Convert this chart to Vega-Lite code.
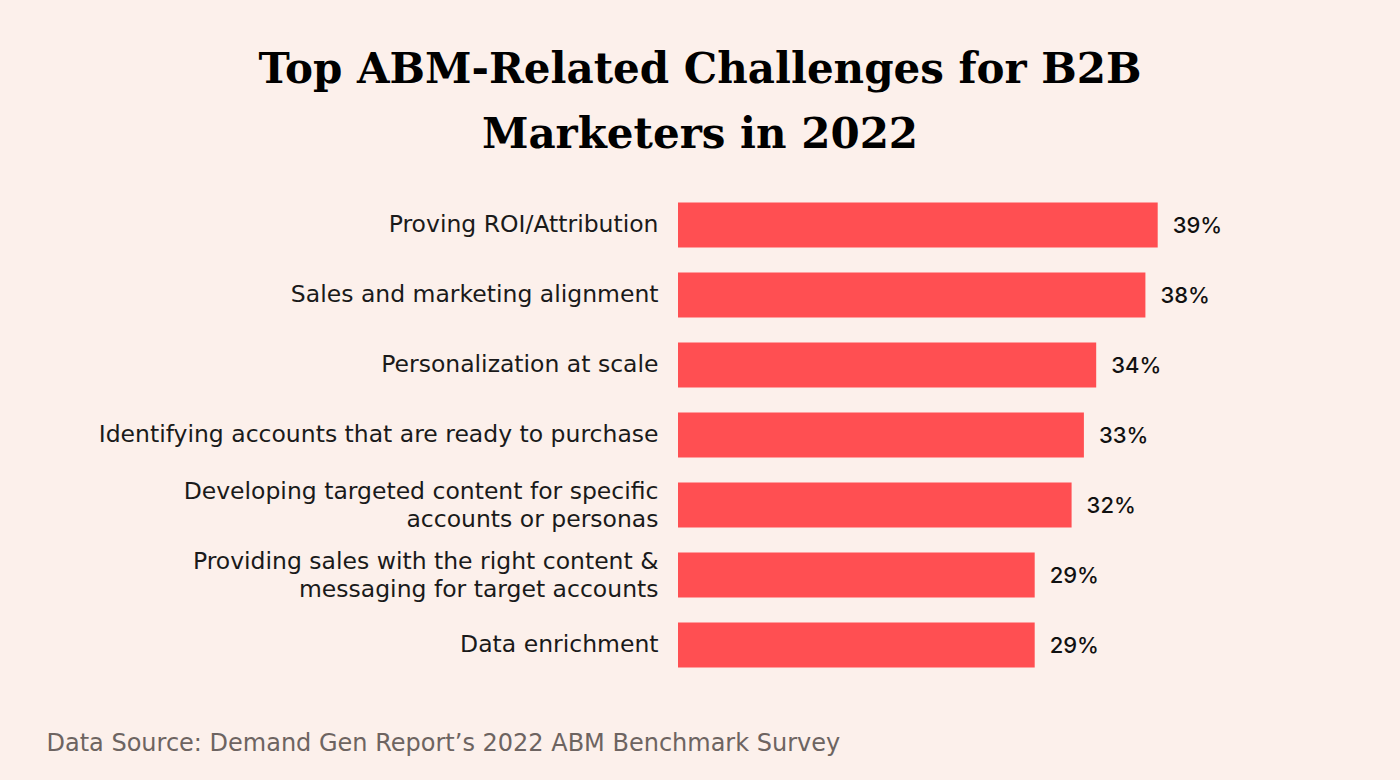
{
  "$schema": "https://vega.github.io/schema/vega-lite/v6.json",
  "width": 492,
  "height": 490,
  "autosize": {"type": "none"},
  "padding": {"left": 678, "top": 190, "right": 230, "bottom": 100},
  "background": "#fcf0eb",
  "title": {
    "text": ["Top ABM-Related Challenges for B2B", "Marketers in 2022"],
    "anchor": "middle",
    "frame": "group",
    "dx": -224,
    "font": "DejaVu Serif",
    "fontWeight": "bold",
    "fontSize": 42,
    "lineHeight": 65,
    "color": "#000000",
    "offset": 33
  },
  "data": {
    "values": [
      {"challenge": "Proving ROI/Attribution", "value": 39, "pct": "39%"},
      {"challenge": "Sales and marketing alignment", "value": 38, "pct": "38%"},
      {"challenge": "Personalization at scale", "value": 34, "pct": "34%"},
      {"challenge": "Identifying accounts that are ready to purchase", "value": 33, "pct": "33%"},
      {"challenge": "Developing targeted content for specific|accounts or personas", "value": 32, "pct": "32%"},
      {"challenge": "Providing sales with the right content &|messaging for target accounts", "value": 29, "pct": "29%"},
      {"challenge": "Data enrichment", "value": 29, "pct": "29%"}
    ]
  },
  "encoding": {
    "y": {
      "field": "challenge",
      "type": "nominal",
      "sort": [
        "Proving ROI/Attribution",
        "Sales and marketing alignment",
        "Personalization at scale",
        "Identifying accounts that are ready to purchase",
        "Developing targeted content for specific|accounts or personas",
        "Providing sales with the right content &|messaging for target accounts",
        "Data enrichment"
      ],
      "scale": {"paddingInner": 0.3571, "paddingOuter": 0.1786},
      "axis": {
        "title": null,
        "ticks": false,
        "domain": false,
        "grid": false,
        "labelExpr": "split(datum.value, '|')",
        "labelFont": "DejaVu Sans",
        "labelFontSize": 23.5,
        "labelColor": "#1a1a1a",
        "labelPadding": 20,
        "labelLimit": 0,
        "labelLineHeight": 28,
        "labelOffset": {"condition": {"test": "indexof(datum.value, '|') >= 0", "value": -13}, "value": 0}
      }
    },
    "x": {
      "field": "value",
      "type": "quantitative",
      "scale": {"domain": [0, 40]},
      "axis": {
        "labels": false,
        "ticks": false,
        "domain": false,
        "grid": false,
        "title": "Data Source: Demand Gen Report’s 2022 ABM Benchmark Survey",
        "titleX": -632,
        "titleY": 70,
        "titleAlign": "left",
        "titleAnchor": null,
        "titleBaseline": "alphabetic",
        "titleFont": "DejaVu Sans",
        "titleFontSize": 24,
        "titleFontWeight": "normal",
        "titleColor": "#6d6461"
      }
    }
  },
  "layer": [
    {"mark": {"type": "bar", "color": "#ff4f52"}},
    {
      "mark": {"type": "text", "align": "left", "baseline": "middle", "dx": 15, "dy": 1, "font": "Inter", "fontSize": 22, "fontWeight": 500, "color": "#111111"},
      "encoding": {"text": {"field": "pct"}}
    }
  ],
  "config": {"view": {"stroke": null}}
}
